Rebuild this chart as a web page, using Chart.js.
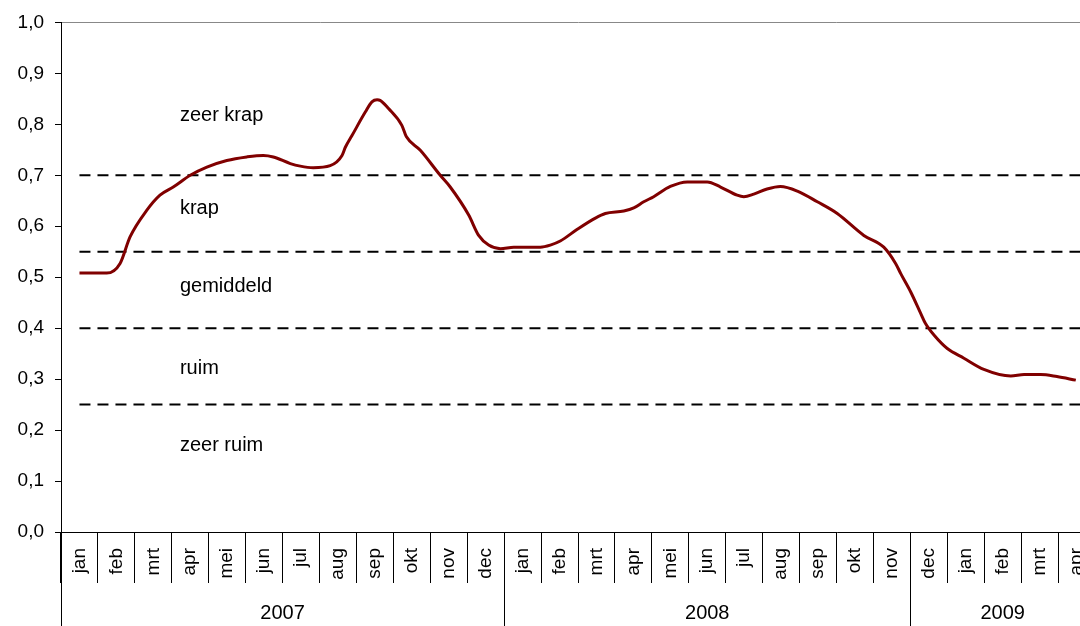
<!DOCTYPE html>
<html>
<head>
<meta charset="utf-8">
<script src="https://cdn.jsdelivr.net/npm/chart.js@4/dist/chart.umd.min.js"></script>
<style>
  html, body { margin: 0; padding: 0; background: #fff; overflow: hidden; }
  #wrap { position: relative; width: 1095px; height: 626px; }
</style>
</head>
<body>
<div id="wrap"><canvas id="chart"></canvas></div>
<script>
var months = ['jan', 'feb', 'mrt', 'apr', 'mei', 'jun', 'jul', 'aug', 'sep', 'okt', 'nov', 'dec',
  'jan', 'feb', 'mrt', 'apr', 'mei', 'jun', 'jul', 'aug', 'sep', 'okt', 'nov',
  'dec', 'jan', 'feb', 'mrt', 'apr']
var years = ['2007', '2008', '2009']
var yearStart = [0, 12, 23]
var yearMid = [6, 17.5, 25.5]

// position in months from the left edge, and the value
var linePos = [0.5, 1.24, 1.6, 1.87, 2.32, 2.68, 3.04, 3.5, 3.95, 4.49, 5.03, 5.48, 5.75,
  6.21, 6.48, 6.83, 7.29, 7.61, 7.7, 7.88, 8.24, 8.42, 8.56, 8.64, 8.87, 9.23, 9.35,
  9.73, 10.27, 10.54, 11.04, 11.31, 11.58, 11.9, 12.26, 12.98, 13.25, 13.52, 13.98,
  14.47, 14.74, 15.24, 15.51, 15.78, 16.05, 16.5, 16.96, 17.5, 17.86, 18.31, 18.49,
  18.76, 19.12, 19.48, 19.94, 20.48, 21.02, 21.74, 22.28, 22.6, 22.74, 23.01, 23.28,
  23.41, 23.68, 24.0, 24.45, 24.99, 25.72, 26.08, 26.53, 26.97, 27.48]
var lineValue = [0.508, 0.508, 0.527, 0.579, 0.631, 0.661, 0.677, 0.700, 0.716, 0.729, 0.736, 0.739, 0.736,
  0.723, 0.718, 0.715, 0.719, 0.739, 0.755, 0.778, 0.824, 0.844, 0.848, 0.847, 0.831, 0.798, 0.776,
  0.749, 0.700, 0.677, 0.622, 0.582, 0.563, 0.556, 0.559, 0.559, 0.563, 0.571, 0.594,
  0.616, 0.625, 0.630, 0.636, 0.648, 0.658, 0.678, 0.687, 0.687, 0.677, 0.661, 0.658,
  0.663, 0.673, 0.678, 0.669, 0.648, 0.625, 0.582, 0.559, 0.527, 0.507, 0.471, 0.429,
  0.409, 0.383, 0.360, 0.341, 0.319, 0.306, 0.309, 0.309, 0.305, 0.298]

var bandLimits = [0.70, 0.55, 0.40, 0.25]
var bandNames = ['zeer krap', 'krap', 'gemiddeld', 'ruim', 'zeer ruim']
var bandNameY = [0.818, 0.635, 0.482, 0.32, 0.169]
var bandNameX = 3.22

var font = 'Liberation Sans, Arial, sans-serif'

function toPoints (xs, ys) {
  return xs.map(function (x, i) { return { x: x, y: ys[i] } })
}

var datasets = [{
  data: toPoints(linePos, lineValue),
  xAxisID: 'xl',
  borderColor: '#800000',
  borderWidth: 3,
  pointRadius: 0,
  cubicInterpolationMode: 'monotone',
  order: 0
}]

bandLimits.forEach(function (v) {
  datasets.push({
    data: [{ x: 0.5, y: v }, { x: 28, y: v }],
    xAxisID: 'xl',
    borderColor: '#000',
    borderWidth: 2,
    borderDash: [11, 7],
    pointRadius: 0,
    order: 1
  })
})

var extras = {
  id: 'extras',
  afterDraw: function (chart) {
    var ctx = chart.ctx
    var xl = chart.scales.xl
    var y = chart.scales.y
    var xs = chart.scales.x
    ctx.save()
    ctx.fillStyle = '#000'
    ctx.font = '20px ' + font
    ctx.textAlign = 'left'
    ctx.textBaseline = 'middle'
    bandNames.forEach(function (name, i) {
      ctx.fillText(name, xl.getPixelForValue(bandNameX), y.getPixelForValue(bandNameY[i]))
    })
    ctx.strokeStyle = '#000'
    ctx.lineWidth = 1
    yearStart.forEach(function (v) {
      var px = Math.round(xl.getPixelForValue(v)) + 0.5
      ctx.beginPath()
      ctx.moveTo(px, xs.top)
      ctx.lineTo(px, chart.height)
      ctx.stroke()
    })
    ctx.restore()
  }
}

new Chart(document.getElementById('chart'), {
  type: 'line',
  data: { labels: months, datasets: datasets },
  plugins: [extras],
  options: {
    responsive: true,
    maintainAspectRatio: false,
    animation: false,
    layout: { padding: { top: 22, right: 0, left: 0, bottom: 0 } },
    plugins: { legend: { display: false }, tooltip: { enabled: false } },
    scales: {
      y: {
        min: 0,
        max: 1,
        afterFit: function (s) { s.width = 61 },
        ticks: {
          stepSize: 0.1,
          padding: 11,
          color: '#000',
          font: { family: font, size: 19 },
          callback: function (v) { return v.toFixed(1).replace('.', ',') }
        },
        grid: {
          color: function (c) { return c.tick && c.tick.value === 1 ? '#888' : 'rgba(0,0,0,0)' },
          tickColor: '#000',
          tickLength: 6
        },
        border: { color: '#000', width: 1 }
      },
      x: {
        type: 'category',
        offset: true,
        weight: 0,
        afterFit: function (s) { s.height = 51 },
        ticks: {
          autoSkip: false,
          minRotation: 90,
          maxRotation: 90,
          padding: -35,
          color: '#000',
          font: { family: font, size: 19 }
        },
        grid: {
          offset: true,
          drawOnChartArea: false,
          tickLength: 51,
          color: '#000'
        },
        border: { color: '#000', width: 1 }
      },
      xl: {
        type: 'linear',
        position: 'bottom',
        weight: 1,
        min: 0,
        max: 28,
        afterFit: function (s) { s.height = 43 },
        afterBuildTicks: function (s) {
          s.ticks = yearMid.map(function (v) { return { value: v } })
        },
        ticks: {
          autoSkip: false,
          maxRotation: 0,
          padding: 10,
          color: '#000',
          font: { family: font, size: 20 },
          callback: function (v, i) { return years[i] }
        },
        grid: { display: false },
        border: { display: false }
      }
    }
  }
})
</script>
</body>
</html>
